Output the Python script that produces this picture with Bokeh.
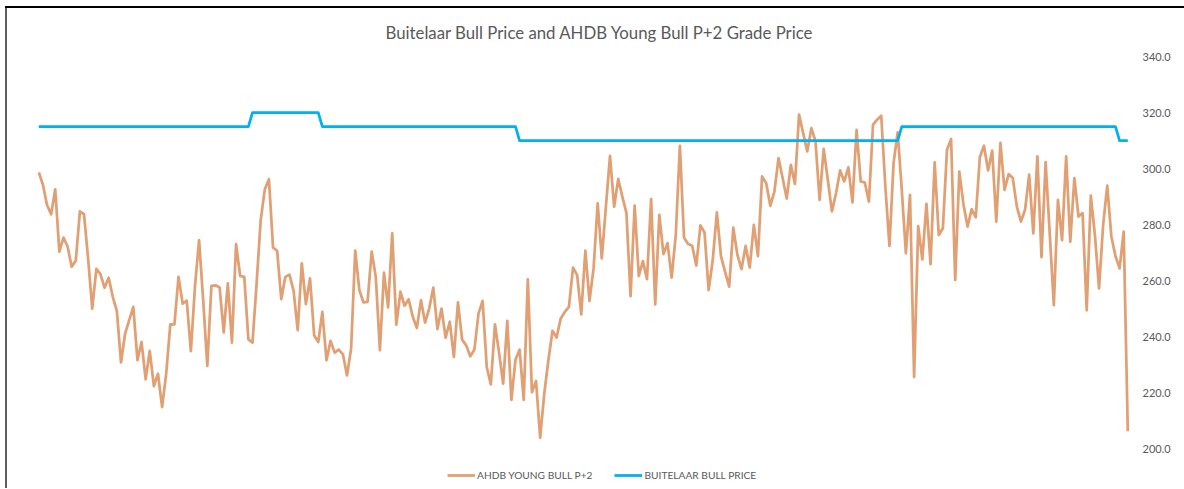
from bokeh.plotting import figure
from bokeh.models import (Range1d, LinearAxis, FixedTicker, NumeralTickFormatter,
                          Legend, LegendItem)
from bokeh.embed import file_html
from bokeh.resources import INLINE

title_text = "Buitelaar Bull Price and AHDB Young Bull P+2 Grade Price"
series_names = ["AHDB YOUNG BULL P+2", "BUITELAAR BULL PRICE"]
y_ticks = [200, 220, 240, 260, 280, 300, 320, 340]

# weekly AHDB young bull P+2 price
ahdb = [
    298.7, 294.3, 287.1, 283.8, 292.7, 270.5, 275.5, 272.3, 265.1, 267.3,
    284.8, 283.8, 268.0, 250.2, 264.3, 262.5, 257.6, 261.2, 254.4, 249.3,
    231.0, 241.3, 246.1, 250.8, 231.8, 238.3, 225.0, 235.1, 222.6, 227.0,
    215.1, 227.0, 244.6, 244.6, 261.5, 252.0, 253.0, 235.0, 258.0, 274.6,
    253.2, 229.8, 258.3, 258.5, 257.7, 241.7, 259.2, 238.1, 273.2, 261.8,
    261.5, 239.2, 238.1, 259.2, 281.8, 292.7, 296.3, 271.9, 270.8, 253.6,
    261.5, 262.3, 256.5, 242.5, 266.3, 251.8, 261.0, 240.7, 238.3, 249.0,
    231.8, 238.7, 234.5, 235.6, 233.9, 226.4, 236.0, 270.8, 256.8, 252.4,
    252.6, 270.5, 261.5, 235.4, 263.0, 250.6, 277.0, 244.5, 256.2, 251.2,
    253.5, 247.3, 243.3, 253.2, 245.2, 250.2, 257.7, 242.9, 250.2, 239.8,
    245.5, 233.0, 252.4, 239.2, 237.1, 233.2, 235.6, 248.5, 252.9, 229.4,
    223.2, 244.6, 234.5, 223.5, 245.8, 217.7, 232.0, 235.6, 217.7, 260.6,
    220.4, 224.4, 204.2, 219.9, 231.8, 242.3, 239.9, 246.7, 249.0, 250.8,
    264.8, 262.1, 248.1, 270.8, 252.9, 264.5, 287.7, 268.1, 286.5, 304.6,
    286.5, 296.4, 290.1, 284.2, 254.6, 286.9, 261.8, 267.1, 260.7, 289.2,
    251.7, 283.6, 269.6, 273.5, 261.2, 276.4, 308.2, 275.5, 273.2, 272.6,
    265.5, 279.8, 277.3, 256.8, 267.5, 284.5, 268.9, 263.3, 258.0, 279.0,
    269.3, 264.3, 272.5, 264.8, 280.0, 268.9, 297.3, 294.9, 286.8, 291.9,
    303.8, 296.7, 289.4, 301.4, 294.6, 319.3, 312.7, 306.2, 314.5, 309.8,
    288.9, 307.1, 296.1, 284.8, 291.3, 299.4, 295.5, 300.5, 288.0, 313.9,
    295.5, 295.1, 288.3, 315.7, 317.5, 318.9, 293.7, 272.5, 302.0, 313.0,
    292.5, 269.9, 290.7, 225.8, 279.6, 267.7, 287.5, 266.0, 302.3, 276.4,
    278.8, 306.8, 310.6, 260.4, 299.0, 287.4, 279.4, 285.6, 282.7, 304.2,
    308.2, 299.4, 306.5, 281.2, 309.2, 292.5, 298.1, 296.7, 286.5, 281.2,
    285.4, 297.9, 277.0, 304.4, 268.5, 302.4, 277.0, 251.4, 288.9, 274.6,
    304.4, 274.0, 296.7, 283.0, 284.2, 249.6, 290.4, 276.4, 257.4, 280.0,
    294.0, 275.8, 268.9, 264.5, 277.6, 206.5,
]

# weekly Buitelaar bull price
buitelaar = [
    315, 315, 315, 315, 315, 315, 315, 315, 315, 315,
    315, 315, 315, 315, 315, 315, 315, 315, 315, 315,
    315, 315, 315, 315, 315, 315, 315, 315, 315, 315,
    315, 315, 315, 315, 315, 315, 315, 315, 315, 315,
    315, 315, 315, 315, 315, 315, 315, 315, 315, 315,
    315, 315,
    320, 320, 320, 320, 320, 320, 320, 320, 320, 320,
    320, 320, 320, 320, 320, 320, 320,
    315, 315, 315, 315, 315, 315, 315, 315, 315, 315,
    315, 315, 315, 315, 315, 315, 315, 315, 315, 315,
    315, 315, 315, 315, 315, 315, 315, 315, 315, 315,
    315, 315, 315, 315, 315, 315, 315, 315, 315, 315,
    315, 315, 315, 315, 315, 315, 315, 315,
    310, 310, 310, 310, 310, 310, 310, 310, 310, 310,
    310, 310, 310, 310, 310, 310, 310, 310, 310, 310,
    310, 310, 310, 310, 310, 310, 310, 310, 310, 310,
    310, 310, 310, 310, 310, 310, 310, 310, 310, 310,
    310, 310, 310, 310, 310, 310, 310, 310, 310, 310,
    310, 310, 310, 310, 310, 310, 310, 310, 310, 310,
    310, 310, 310, 310, 310, 310, 310, 310, 310, 310,
    310, 310, 310, 310, 310, 310, 310, 310, 310, 310,
    310, 310, 310, 310, 310, 310, 310, 310, 310, 310,
    310, 310, 310,
    315, 315, 315, 315, 315, 315, 315, 315, 315, 315,
    315, 315, 315, 315, 315, 315, 315, 315, 315, 315,
    315, 315, 315, 315, 315, 315, 315, 315, 315, 315,
    315, 315, 315, 315, 315, 315, 315, 315, 315, 315,
    315, 315, 315, 315, 315, 315, 315, 315, 315, 315,
    315, 315, 315,
    310, 310, 310,
]

weeks = list(range(len(ahdb)))
weeks_b = list(range(len(buitelaar)))

FONT = "Lato"
GREY = "#595959"

# frame: x 28..1135, y 56..488 (200 sits at y=449, leaving room for the legend)
p = figure(width=1184, height=488, output_backend="svg", toolbar_location=None,
           x_range=Range1d(-2.507, 266.874), y_range=Range1d(186.1, 340))
p.xaxis.visible = False
p.yaxis.visible = False
p.xgrid.visible = False
p.ygrid.visible = False
p.min_border_left = 28
p.min_border_right = 49
p.min_border_top = 56
p.min_border_bottom = 0
p.outline_line_color = None
p.background_fill_color = "white"
p.border_fill_color = None
p.styles = {
    "background": ("linear-gradient(#000000, #000000) 5px 6px / 1179px 2px no-repeat, "
                   "linear-gradient(#5e5e5e, #5e5e5e) 5px 6px / 2px 483px no-repeat, "
                   "#ffffff"),
}

yaxis = LinearAxis(ticker=FixedTicker(ticks=y_ticks),
                   formatter=NumeralTickFormatter(format="0.0"),
                   axis_line_color=None, major_tick_line_color=None,
                   minor_tick_line_color=None, major_tick_out=0, major_tick_in=0,
                   major_label_text_font=FONT, major_label_text_font_size="11px",
                   major_label_text_color=GREY, major_label_standoff=7)
p.add_layout(yaxis, "right")

r1 = p.line(weeks, ahdb, line_color="#E0A074", line_width=2.75, line_join="round")
r2 = p.line(weeks_b, buitelaar, line_color="#00B0F0", line_width=2.75, line_join="round")

p.title.text = title_text
p.title.align = "left"
p.title.offset = 357
p.title.standoff = 28
p.title.text_font = FONT
p.title.text_font_size = "16.8px"
p.title.text_font_style = "normal"
p.title.text_color = GREY

legend = Legend(items=[LegendItem(label=series_names[0], renderers=[r1]),
                       LegendItem(label=series_names[1], renderers=[r2])],
                orientation="horizontal", location=(419, 7),
                border_line_color=None, background_fill_alpha=0,
                label_text_font=FONT, label_text_font_size="10.2px",
                label_text_color=GREY, glyph_width=28, glyph_height=10,
                label_standoff=2, spacing=22, padding=0, margin=0)
p.add_layout(legend, "center")

open("out.html", "w").write(file_html(p, INLINE))
